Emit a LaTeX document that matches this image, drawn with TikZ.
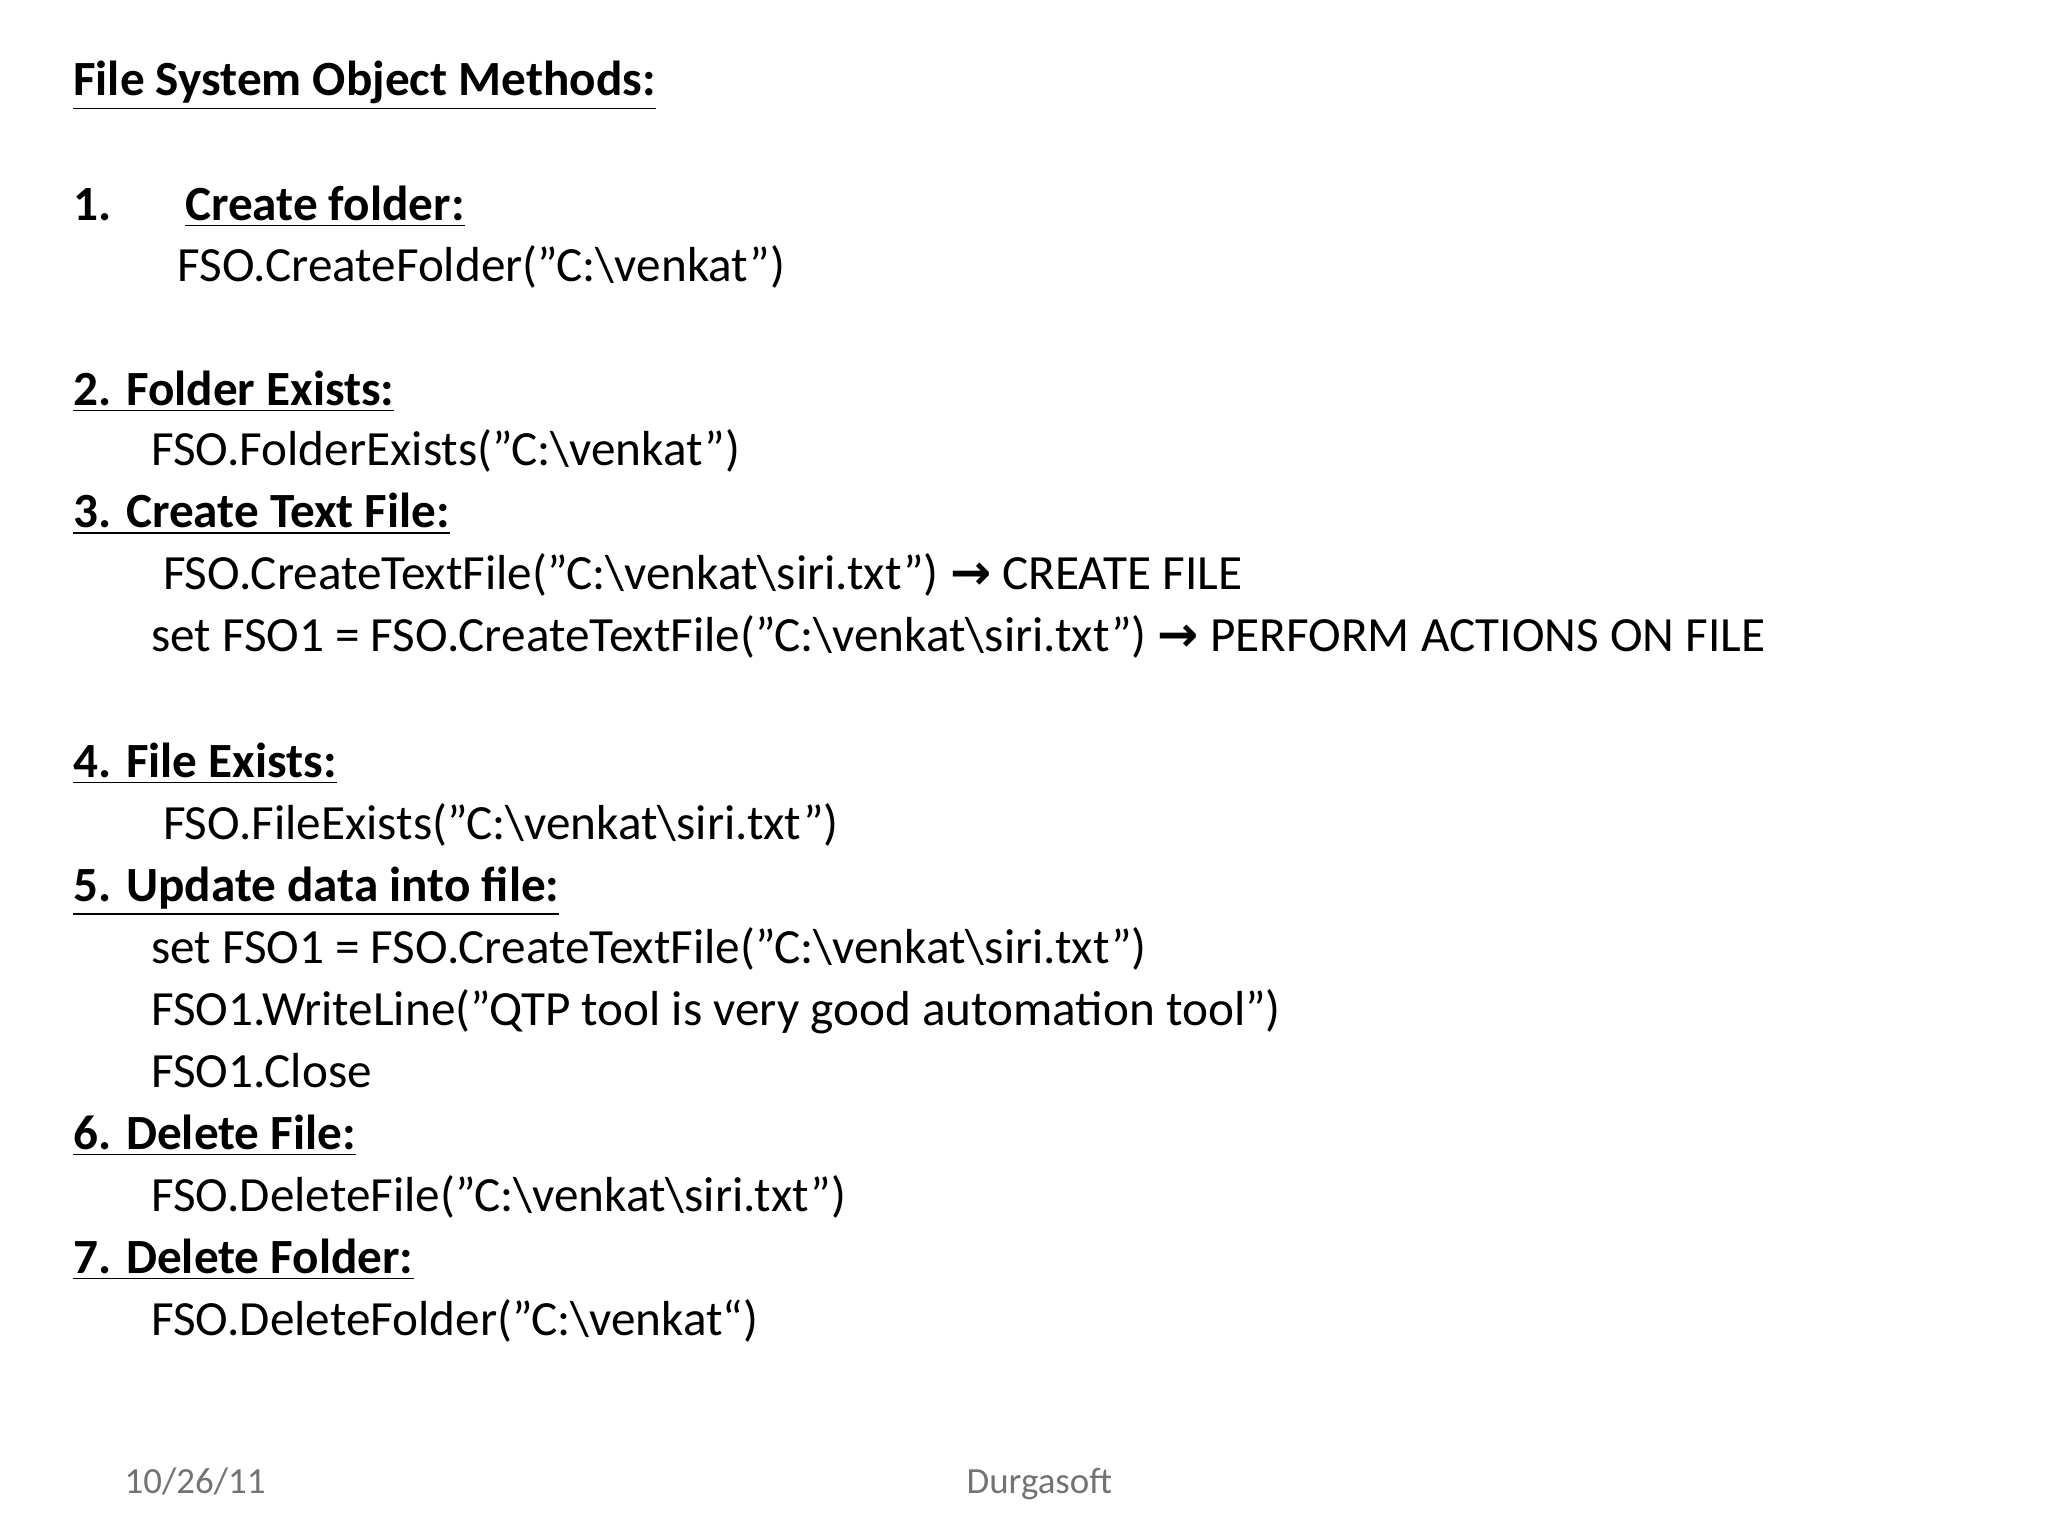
\documentclass[tikz,border=0pt]{standalone}
\usepackage{fontspec}
\setmainfont{Carlito}
\newfontfamily\arr{DejaVu Sans}
\newcommand{\bs}{\textbackslash}
\newcommand{\ar}{{\arr\bfseries →}}
\begin{document}
\begin{tikzpicture}[x=0.013196cm,y=-0.013196cm,
  t/.style={anchor=base west,inner sep=0pt,font=\fontsize{14}{16}\selectfont},
  h/.style={t,font=\fontsize{14}{16}\selectfont\bfseries},
  f/.style={anchor=base west,inner sep=0pt,font=\fontsize{10.5}{12}\selectfont,text=black!55}]
\useasboundingbox (0,0) rectangle (1552,1164);
\node[h] (title) at (55,72) {\underline{File System Object Methods:}};
\node[h] (n1) at (55,167) {1.\hspace{1.5em}\underline{Create folder:}};
\node[t] (l1) at (134,213) {FSO.CreateFolder("C:\bs venkat")};
\node[h] (n2) at (55,307) {\underline{2. Folder Exists:}};
\node[t] (l2) at (114,353) {FSO.FolderExists("C:\bs venkat")};
\node[h] (n3) at (55,400) {\underline{3. Create Text File:}};
\node[t] (l3a) at (123,447) {FSO.CreateTextFile("C:\bs venkat\bs siri.txt") \ar\ CREATE FILE};
\node[t] (l3b) at (114,494) {set FSO1 = FSO.CreateTextFile("C:\bs venkat\bs siri.txt") \ar\ PERFORM ACTIONS ON FILE};
\node[h] (n4) at (55,589) {\underline{4. File Exists:}};
\node[t] (l4) at (123,636) {FSO.FileExists("C:\bs venkat\bs siri.txt")};
\node[h] (n5) at (55,683) {\underline{5. Update data into file:}};
\node[t] (l5a) at (114,730) {set FSO1 = FSO.CreateTextFile("C:\bs venkat\bs siri.txt")};
\node[t] (l5b) at (114,777) {FSO1.WriteLine("QTP tool is very good automation tool")};
\node[t] (l5c) at (114,824) {FSO1.Close};
\node[h] (n6) at (55,871) {\underline{6. Delete File:}};
\node[t] (l6) at (114,918) {FSO.DeleteFile("C:\bs venkat\bs siri.txt")};
\node[h] (n7) at (55,965) {\underline{7. Delete Folder:}};
\node[t] (l7) at (114,1012) {FSO.DeleteFolder("C:\bs venkat“)};
\node[f] (date) at (94,1132) {10/26/11};
\node[f] (brand) at (732,1132) {Durgasoft};
\end{tikzpicture}
\end{document}
